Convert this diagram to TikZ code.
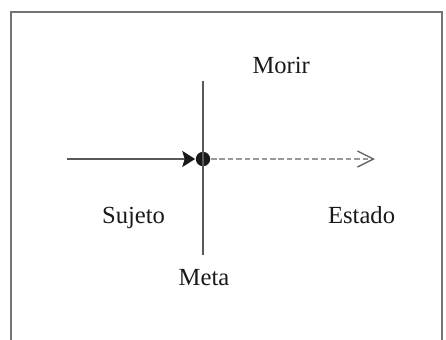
\documentclass[tikz,border=0pt]{standalone}
\usepackage{fontspec}
\setmainfont{Liberation Serif}
\usetikzlibrary{arrows.meta}
\begin{document}
\begin{tikzpicture}[line width=1pt,
    lbl/.style={anchor=base, inner sep=0pt, font=\fontsize{17.5}{21}\selectfont, text=black!90}]
                \useasboundingbox (0,0) rectangle (11.15,8.475);
                \draw[black!55] (0.275,-0.2) -- (0.275,8.175) -- (11.05,8.175) -- (11.05,-0.2);

                \node[shape=circle, fill=black!90, inner sep=0pt, minimum size=0.36cm] (o) at (5.075,4.5) {};
                \coordinate (w) at (1.675,4.5);
                \coordinate (e) at (9.375,4.5);
                \coordinate (n) at (5.075,6.45);
                \coordinate (s) at (5.075,2.1);

                \node[lbl] (morir) at (7.03,6.65) {Morir};
                \node[lbl] (sujeto) at (3.34,2.9) {Sujeto};
                \node[lbl] (estado) at (9.04,2.9) {Estado};
                \node[lbl] (meta) at (5.1,1.35) {Meta};

                \draw[black!65] (n) -- (s);
                \draw[black!65, -{Stealth[length=0.32cm, width=0.4cm, inset=0.06cm, fill=black!90, color=black!90]}] (w) -- (o.west);
                \draw[black!40, dashed, dash pattern=on 4pt off 2pt, -{Straight Barb[length=0.4cm, width=0.4cm, line width=1pt, color=black!60]}] (o.east) -- (e);

            \end{tikzpicture}
\end{document}
